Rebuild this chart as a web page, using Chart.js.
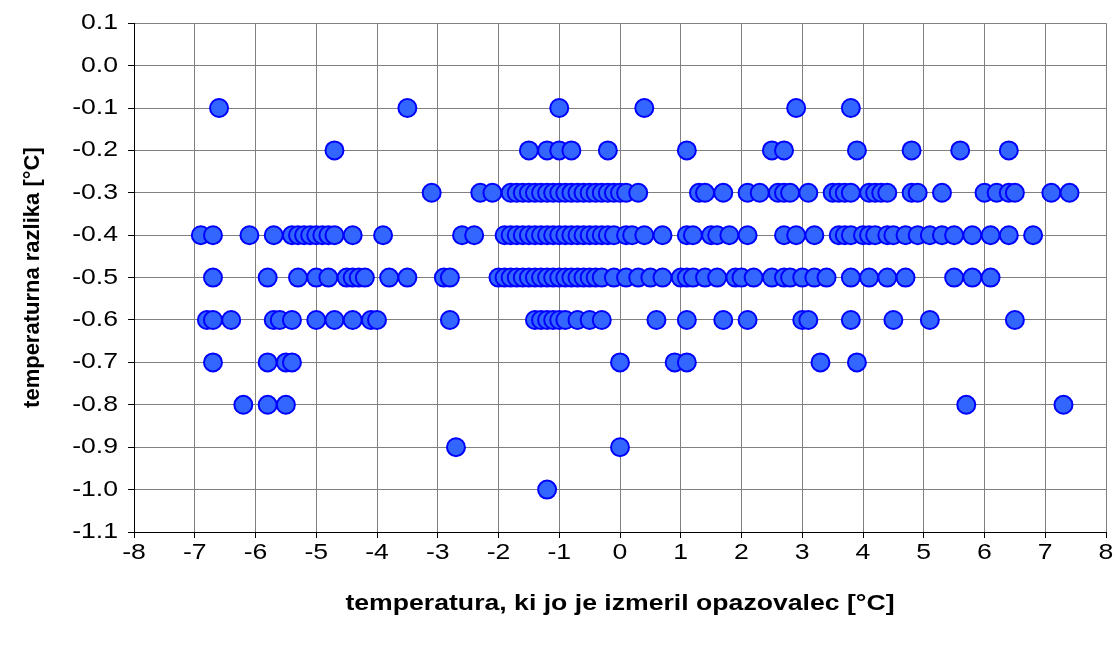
<!DOCTYPE html>
<html>
<head>
<meta charset="utf-8">
<script src="https://cdn.jsdelivr.net/npm/chart.js@4/dist/chart.umd.min.js"></script>
<style>
  html, body { margin: 0; padding: 0; background: #fff; }
  #wrap { width: 1117px; height: 648px; }
</style>
</head>
<body>
<div id="wrap"><canvas id="razlika" width="1117" height="648"></canvas></div>
<script>
// measured temperature (x) for each temperature difference level
const diffLevels = [-0.1, -0.2, -0.3, -0.4, -0.5, -0.6, -0.7, -0.8, -0.9, -1.0];

const tempAt01 = [-6.6, -3.5, -1.0, 0.4, 2.9, 3.8];
const tempAt02 = [-4.7, -1.5, -1.2, -1.0, -0.8, -0.2, 1.1, 2.5, 2.7, 3.9, 4.8, 5.6, 6.4];
const tempAt03 = [-3.1, -2.3, -2.1, -1.8, -1.7, -1.6, -1.5, -1.4, -1.3, -1.2, -1.1, -1.0,
    -0.9, -0.8, -0.7, -0.6, -0.5, -0.4, -0.3, -0.2, -0.1, 0.0, 0.1, 0.3, 1.3, 1.4, 1.7,
    2.1, 2.3, 2.6, 2.7, 2.8, 3.1, 3.5, 3.6, 3.7, 3.8, 4.1, 4.2, 4.3, 4.4, 4.8, 4.9, 5.3,
    6.0, 6.2, 6.4, 6.5, 7.1, 7.4];
const tempAt04 = [-6.9, -6.7, -6.1, -5.7, -5.4, -5.3, -5.2, -5.1, -5.0, -4.9, -4.8, -4.7,
    -4.4, -3.9, -2.6, -2.4, -1.9, -1.8, -1.7, -1.6, -1.5, -1.4, -1.3, -1.2, -1.1, -1.0,
    -0.9, -0.8, -0.7, -0.6, -0.5, -0.4, -0.3, -0.2, -0.1, 0.1, 0.2, 0.4, 0.7, 1.1, 1.2,
    1.5, 1.6, 1.8, 2.1, 2.7, 2.9, 3.2, 3.6, 3.7, 3.8, 4.0, 4.1, 4.2, 4.4, 4.5, 4.7, 4.9,
    5.1, 5.3, 5.5, 5.8, 6.1, 6.4, 6.8];
const tempAt05 = [-6.7, -5.8, -5.3, -5.0, -4.8, -4.5, -4.4, -4.3, -4.2, -3.8, -3.5, -2.9,
    -2.8, -2.0, -1.9, -1.8, -1.7, -1.6, -1.5, -1.4, -1.3, -1.2, -1.1, -1.0, -0.9, -0.8,
    -0.7, -0.6, -0.5, -0.4, -0.3, -0.1, 0.1, 0.3, 0.5, 0.7, 1.0, 1.1, 1.2, 1.4, 1.6, 1.9,
    2.0, 2.2, 2.5, 2.7, 2.8, 3.0, 3.2, 3.4, 3.8, 4.1, 4.4, 4.7, 5.5, 5.8, 6.1];
const tempAt06 = [-6.8, -6.7, -6.4, -5.7, -5.6, -5.4, -5.0, -4.7, -4.4, -4.1, -4.0, -2.8,
    -1.4, -1.3, -1.2, -1.1, -1.0, -0.9, -0.7, -0.5, -0.3, 0.6, 1.1, 1.7, 2.1, 3.0, 3.1,
    3.8, 4.5, 5.1, 6.5];
const tempAt07 = [-6.7, -5.8, -5.5, -5.4, 0.0, 0.9, 1.1, 3.3, 3.9];
const tempAt08 = [-6.2, -5.8, -5.5, 5.7, 7.3];
const tempAt09 = [-2.7, 0.0];
const tempAt10 = [-1.2];

const tempRows = [tempAt01, tempAt02, tempAt03, tempAt04, tempAt05,
                  tempAt06, tempAt07, tempAt08, tempAt09, tempAt10];

const xTicks = [-8, -7, -6, -5, -4, -3, -2, -1, 0, 1, 2, 3, 4, 5, 6, 7, 8];
const yTicks = [0.1, 0.0, -0.1, -0.2, -0.3, -0.4, -0.5, -0.6, -0.7, -0.8, -0.9, -1.0, -1.1];

function buildPoints() {
    let points = [];
    tempRows.forEach((row, i) => {
        for (let t of row) {
            points.push({ x: t, y: diffLevels[i] });
        }
    });
    return points;
}

const fontFamily = '"Liberation Sans", Arial, sans-serif';
const textStretch = 1.21;   // labels are drawn a bit wider than the plain font

const ctx = document.getElementById("razlika").getContext("2d");

// widen horizontal text around its anchor point, leave rotated text alone
const baseFillText = CanvasRenderingContext2D.prototype.fillText;
ctx.fillText = function (text, x, y, maxWidth) {
    const m = this.getTransform();
    if (m.b !== 0 || m.c !== 0) {
        return maxWidth === undefined
            ? baseFillText.call(this, text, x, y)
            : baseFillText.call(this, text, x, y, maxWidth);
    }
    this.save();
    this.translate(x, y);
    this.scale(textStretch, 1);
    baseFillText.call(this, text, 0, 0);
    this.restore();
};

new Chart(ctx, {
    type: "scatter",
    data: {
        datasets: [{
            data: buildPoints(),
            pointRadius: 9,
            pointHoverRadius: 9,
            borderWidth: 2,
            backgroundColor: "#3366ff",
            borderColor: "#0000ff"
        }]
    },
    options: {
        responsive: false,
        animation: false,
        events: [],
        layout: {
            padding: { left: 0, right: 11, top: 20, bottom: 0 }
        },
        plugins: {
            legend: { display: false },
            tooltip: { enabled: false }
        },
        scales: {
            x: {
                type: "linear",
                min: -8,
                max: 8,
                afterBuildTicks: s => { s.ticks = xTicks.map(v => ({ value: v })); },
                afterFit: s => { s.height = 116; },
                grid: { color: "#808080", tickColor: "#000", tickLength: 6 },
                border: { color: "#000", width: 1 },
                ticks: {
                    color: "#000",
                    padding: 2,
                    maxRotation: 0,
                    autoSkip: false,
                    font: { family: fontFamily, size: 22 },
                    callback: v => String(v)
                },
                title: {
                    display: true,
                    text: "temperatura, ki jo je izmeril opazovalec [°C]",
                    color: "#000",
                    padding: { top: 0, bottom: 31 },
                    font: { family: fontFamily, size: 22, weight: "bold" }
                }
            },
            y: {
                type: "linear",
                min: -1.1,
                max: 0.1,
                afterBuildTicks: s => { s.ticks = yTicks.map(v => ({ value: v })); },
                afterFit: s => { s.width = 134; },
                grid: { color: "#808080", tickColor: "#000", tickLength: 6 },
                border: { color: "#000", width: 1 },
                ticks: {
                    color: "#000",
                    padding: 10,
                    autoSkip: false,
                    font: { family: fontFamily, size: 22 },
                    callback: v => v.toFixed(1)
                },
                title: {
                    display: true,
                    text: "temperaturna razlika [°C]",
                    color: "#000",
                    padding: { top: 20, bottom: 0 },
                    font: { family: fontFamily, size: 22, weight: "bold" }
                }
            }
        }
    },
    plugins: [{
        id: "whiteBg",
        beforeDraw: chart => {
            const c = chart.ctx;
            c.save();
            c.fillStyle = "#fff";
            c.fillRect(0, 0, chart.width, chart.height);
            c.restore();
        }
    }]
});
</script>
</body>
</html>
